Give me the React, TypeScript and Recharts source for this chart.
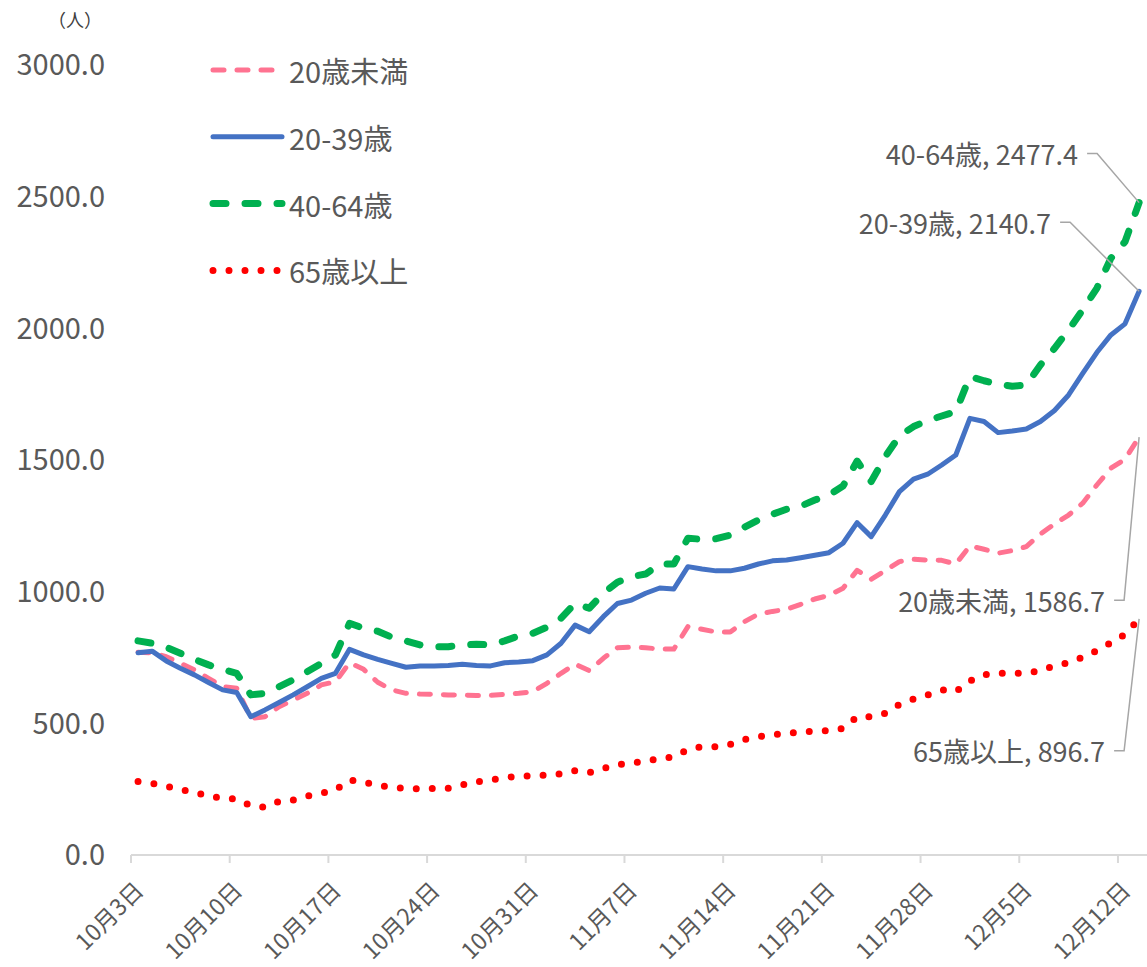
import React from 'react';
import { LineChart, Line, XAxis, YAxis } from 'recharts';

// categories: one value per day, 10/3 .. 12/13
const range = (a: number, b: number) => Array.from({ length: b - a + 1 }, (_, i) => a + i);
const dates = [
    ...range(3, 31).map((d) => `10月${d}日`),
    ...range(1, 30).map((d) => `11月${d}日`),
    ...range(1, 13).map((d) => `12月${d}日`),
];

const tickLabels = [
    '10月3日', '10月10日', '10月17日', '10月24日', '10月31日', '11月7日',
    '11月14日', '11月21日', '11月28日', '12月5日', '12月12日',
];
const yTicks = [0, 500, 1000, 1500, 2000, 2500, 3000];

const seriesNames = ['20歳未満', '20-39歳', '40-64歳', '65歳以上'];

const under20 = [
    770, 768, 753, 728, 703, 671, 639, 633, 519, 525, 563, 589, 614, 646, 658, 730,
    705, 656, 627, 614, 611, 610, 608, 607, 606, 606, 610, 614, 620, 652, 690, 725,
    700, 747, 787, 789, 787, 782, 782, 867, 857, 847, 847, 886, 915, 925, 933, 952,
    972, 986, 1013, 1081, 1047, 1080, 1114, 1123, 1120, 1119, 1105, 1174, 1161, 1146,
    1156, 1171, 1219, 1257, 1291, 1336, 1405, 1469, 1503, 1586.7,
];
const age20to39 = [
    768, 774, 737, 709, 684, 655, 627, 617, 525, 551, 579, 608, 639, 671, 690, 781,
    760, 743, 728, 713, 718, 718, 720, 724, 720, 718, 730, 733, 738, 760, 804, 873,
    848, 905, 955, 968, 994, 1014, 1010, 1095, 1086, 1079, 1079, 1089, 1105, 1117, 1120, 1129,
    1138, 1148, 1184, 1262, 1209, 1291, 1380, 1427, 1446, 1481, 1519, 1658, 1646, 1604,
    1610, 1618, 1646, 1688, 1747, 1829, 1908, 1975, 2017, 2140.7,
];
const age40to64 = [
    813, 804, 789, 766, 743, 722, 705, 690, 608, 614, 639, 665, 696, 728, 760, 880,
    861, 850, 827, 813, 798, 791, 791, 798, 800, 798, 813, 832, 842, 865, 899, 956,
    937, 994, 1036, 1057, 1067, 1105, 1105, 1203, 1199, 1201, 1215, 1245, 1272, 1294, 1313, 1325,
    1348, 1367, 1401, 1496, 1418, 1513, 1591, 1627, 1650, 1667, 1684, 1817, 1801, 1788,
    1780, 1785, 1861, 1924, 1994, 2070, 2152, 2266, 2329, 2477.4,
];
const over65 = [
    279, 272, 261, 249, 238, 224, 216, 213, 187, 181, 204, 209, 224, 234, 247, 285,
    276, 265, 256, 253, 251, 253, 253, 266, 278, 285, 294, 299, 301, 304, 308, 320,
    313, 329, 343, 349, 357, 366, 373, 401, 411, 411, 420, 439, 449, 456, 462, 467,
    471, 472, 481, 525, 525, 538, 572, 592, 608, 627, 620, 661, 685, 690, 691, 690,
    700, 719, 730, 751, 776, 806, 838, 896.7,
];

const rows = dates.map((d, i) => ({
    idx: i,
    date: d,
    u20: under20[i],
    a20: age20to39[i],
    a40: age40to64[i],
    o65: over65[i],
}));

const FONT = '"Noto Sans CJK JP", "Noto Sans", sans-serif';
const TEXT = '#595959';
const LEADER = '#A6A6A6';

// per-series look + where its end label sits relative to the last point
const styles = [
    { key: 'u20', color: '#FF7391', width: 5, dash: '11 13', lx: -34, ly: 163 },
    { key: 'a20', color: '#4472C4', width: 5, dash: undefined, lx: -88, ly: -69 },
    { key: 'a40', color: '#00B050', width: 7, dash: '13 19', lx: -61, ly: -49 },
    { key: 'o65', color: '#FF0000', width: 7, dash: '0 16', lx: -34, ly: 132 },
];

const last = dates.length - 1;

function endLabel(s: number) {
    return (p: any) => {
        if (p.index !== last) return <g key={`l${s}-${p.index}`} />;
        const st = styles[s];
        const tx = p.x + st.lx;
        const ty = p.y + st.ly;
        const val = [under20, age20to39, age40to64, over65][s][last];
        return (
            <g key={`l${s}-end`}>
                <polyline
                    points={`${tx + 9},${ty} ${tx + 19},${ty} ${p.x},${p.y}`}
                    fill="none"
                    stroke={LEADER}
                    strokeWidth={1.5}
                />
                <text
                    x={tx}
                    y={ty}
                    textAnchor="end"
                    dominantBaseline="central"
                    fontFamily={FONT}
                    fontSize={27}
                    fill={TEXT}
                >
                    {`${seriesNames[s]}, ${val.toFixed(1)}`}
                </text>
            </g>
        );
    };
}

function DateTick(props: any) {
    const { x, y, payload } = props;
    const label = dates[Math.round(payload.value + 0.5)];
    const ax = x + 7;
    const ay = y + 20;
    return (
        <text
            x={ax}
            y={ay}
            transform={`rotate(-45 ${ax} ${ay})`}
            textAnchor="end"
            dominantBaseline="central"
            fontFamily={FONT}
            fontSize={23}
            fill={TEXT}
        >
            {label}
        </text>
    );
}

function LegendBox() {
    return (
        <svg width={430} height={300} style={{ position: 'absolute', left: 0, top: 0 }}>
            <text x={48} y={19} fontFamily={FONT} fontSize={18} fill="#404040" dominantBaseline="central">
                （人）
            </text>
            {styles.map((st, i) => {
                const y = 70 + i * 66.8;
                return (
                    <g key={st.key}>
                        <line
                            x1={213}
                            x2={282}
                            y1={y}
                            y2={y}
                            stroke={st.color}
                            strokeWidth={st.width}
                            strokeDasharray={st.dash}
                            strokeLinecap="round"
                        />
                        <text x={289} y={y} fontFamily={FONT} fontSize={29} fill={TEXT} dominantBaseline="central">
                            {seriesNames[i]}
                        </text>
                    </g>
                );
            })}
        </svg>
    );
}

export default function App() {
    const tickValues = tickLabels.map((t) => dates.indexOf(t) - 0.5);
    return (
        <div style={{ position: 'absolute', left: 0, top: 0, width: 1147, height: 967, background: '#fff' }}>
            <LineChart
                width={1147}
                height={967}
                data={rows}
                margin={{ top: 65, right: 0, left: 0, bottom: 12 }}
            >
                <XAxis
                    type="number"
                    dataKey="idx"
                    domain={[-0.5, 71.56]}
                    allowDataOverflow
                    ticks={tickValues}
                    interval={0}
                    height={100}
                    tick={<DateTick />}
                    tickSize={8}
                    axisLine={{ stroke: '#D9D9D9', strokeWidth: 2 }}
                    tickLine={{ stroke: '#D9D9D9', strokeWidth: 2 }}
                />
                <YAxis
                    type="number"
                    domain={[0, 3000]}
                    ticks={yTicks}
                    interval={0}
                    width={131}
                    axisLine={false}
                    tickLine={false}
                    tickSize={0}
                    tickMargin={26}
                    tickFormatter={(v: number) => v.toFixed(1)}
                    tick={{ fill: TEXT, fontSize: 29, fontFamily: FONT }}
                />
                {styles.map((st, i) => (
                    <Line
                        key={st.key}
                        dataKey={st.key}
                        name={seriesNames[i]}
                        stroke={st.color}
                        strokeWidth={st.width}
                        strokeDasharray={st.dash}
                        strokeLinecap="round"
                        strokeLinejoin="round"
                        dot={false}
                        activeDot={false}
                        isAnimationActive={false}
                        label={endLabel(i)}
                    />
                ))}
            </LineChart>
            <LegendBox />
        </div>
    );
}
